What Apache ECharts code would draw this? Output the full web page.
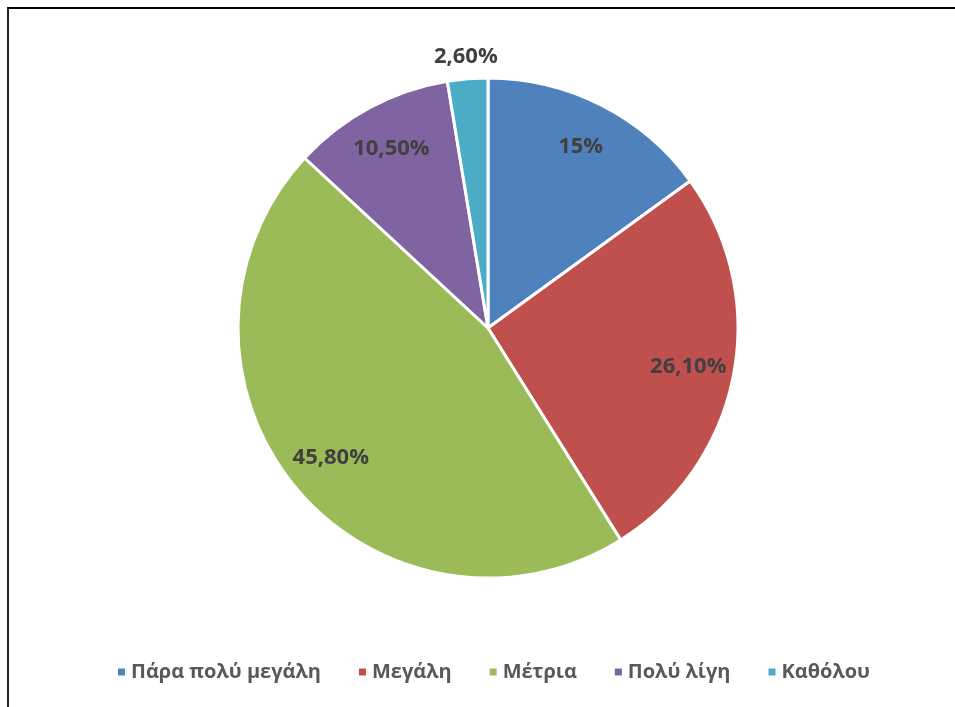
<!DOCTYPE html>
<html>
<head>
<meta charset="utf-8">
<script src="https://cdn.jsdelivr.net/npm/echarts@6/dist/echarts.min.js"></script>
<style>
  html, body { margin: 0; padding: 0; background: #fff; overflow: hidden; }
  #frame {
    position: absolute; left: 7px; top: 7px; width: 1000px; height: 800px;
    border-top: 2px solid #000; border-left: 2px solid #222;
  }
  #chart { position: absolute; left: 0; top: 0; width: 955px; height: 707px; }
</style>
</head>
<body>
<div id="frame"></div>
<div id="chart"></div>
<script>
const categories = ["Πάρα πολύ μεγάλη", "Μεγάλη", "Μέτρια", "Πολύ λίγη", "Καθόλου"];
const values = [15, 26.1, 45.8, 10.5, 2.6];
const valueLabels = ["15%", "26,10%", "45,80%", "10,50%", "2,60%"];
const colors = ["#4F81BD", "#C0504D", "#9BBB59", "#8064A2", "#4BACC6"];

const FONT = "'Open Sans', 'Noto Sans', sans-serif";
const center = [488, 328];

const pieData = categories.map((name, i) => ({
  name,
  value: values[i],
  itemStyle: { color: colors[i] },
}));

// labels sitting inside the slices
const innerLabels = categories.map((name, i) => ({
  name,
  value: values[i],
  label: { show: i !== 4, formatter: valueLabels[i] },
}));

// the small slice gets its label just above the pie
const outerLabels = categories.map((name, i) => ({
  name,
  value: values[i],
  label: { show: i === 4, formatter: valueLabels[i] },
}));

const labelStyle = {
  position: "inside",
  color: "#404040",
  fontFamily: FONT,
  fontWeight: "bold",
  fontSize: 22,
};

const chart = echarts.init(document.getElementById("chart"), null, { renderer: "canvas" });
chart.setOption({
  animation: false,
  color: colors,
  legend: {
    bottom: 20,
    left: 111,
    itemWidth: 9,
    itemHeight: 9,
    itemGap: 36,
    icon: "rect",
    textStyle: { color: "#595959", fontFamily: FONT, fontWeight: "bold", fontSize: 20 },
    data: categories,
  },
  series: [
    {
      type: "pie",
      center,
      radius: 250,
      startAngle: 90,
      clockwise: true,
      silent: true,
      itemStyle: { borderColor: "#fff", borderWidth: 3 },
      label: { show: false },
      labelLine: { show: false },
      data: pieData,
    },
    {
      type: "pie",
      center,
      radius: [152, 250],
      startAngle: 90,
      clockwise: true,
      silent: true,
      itemStyle: { color: "transparent" },
      label: labelStyle,
      labelLine: { show: false },
      data: innerLabels,
    },
    {
      type: "pie",
      center,
      radius: [256, 282],
      startAngle: 90,
      clockwise: true,
      silent: true,
      itemStyle: { color: "transparent" },
      label: labelStyle,
      labelLine: { show: false },
      data: outerLabels,
    },
  ],
});
</script>
</body>
</html>
